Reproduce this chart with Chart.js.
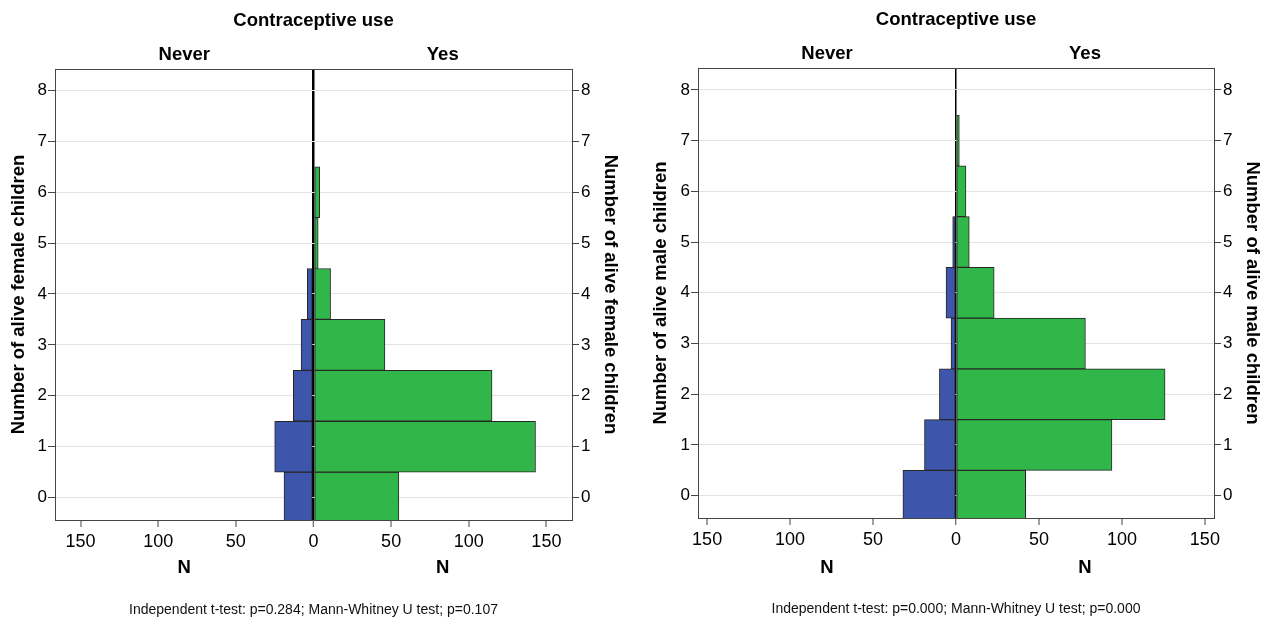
<!DOCTYPE html>
<html>
<head>
<meta charset="utf-8">
<title>Contraceptive use by number of alive children</title>
<script src="https://cdn.jsdelivr.net/npm/chart.js@4/dist/chart.umd.min.js"></script>
<style>
  html, body { margin: 0; padding: 0; background: #fff; overflow: hidden; }
  #wrap { position: relative; width: 1273px; height: 619px; }
  canvas { position: absolute; top: 0; }
</style>
</head>
<body>
<div id="wrap">
  <canvas id="female" width="636" height="619" style="left:0"></canvas>
  <canvas id="male" width="637" height="619" style="left:636px"></canvas>
</div>
<script>
// Number of alive children (y categories)
const childCounts = [0, 1, 2, 3, 4, 5, 6, 7, 8];

// Women by number of alive female children
const femaleNever = [19, 25, 13, 8, 4, 0, 0, 0, 0];
const femaleYes   = [55, 143, 115, 46, 11, 3, 4, 0, 0];

// Women by number of alive male children
const maleNever = [32, 19, 10, 3, 6, 2, 0, 0, 0];
const maleYes   = [42, 94, 126, 78, 23, 8, 6, 2, 0];

// Axis ticks
const countTicks = [0, 1, 2, 3, 4, 5, 6, 7, 8];
const nTicks = [-150, -100, -50, 0, 50, 100, 150];

const groupLabels = ['Never', 'Yes'];
const FONT = '"Liberation Sans", Arial, Helvetica, sans-serif';
const AXIS = '#454545';

// Headings, N labels and test note placed relative to the plot area
const panelText = {
  id: 'panelText',
  afterDraw(chart, args, o) {
    const { ctx, chartArea: a, scales: { x } } = chart;
    const x0 = x.getPixelForValue(0);
    const leftMid = (a.left + x0) / 2;
    const rightMid = (x0 + a.right) / 2;
    ctx.save();
    ctx.fillStyle = '#000';
    ctx.textAlign = 'center';
    ctx.textBaseline = 'middle';
    ctx.font = 'bold 18.5px ' + FONT;
    ctx.fillText('Contraceptive use', x0, o.titleY);
    ctx.fillText(groupLabels[0], leftMid, o.headY);
    ctx.fillText(groupLabels[1], rightMid, o.headY);
    ctx.fillText('N', leftMid, o.nY);
    ctx.fillText('N', rightMid, o.nY);
    ctx.font = '14px ' + FONT;
    ctx.fillStyle = '#111';
    ctx.fillText(o.note, x0, o.noteY);
    ctx.restore();
  }
};

function toPoints(values, sign) {
  return childCounts.map((c, i) => ({ x: sign * values[i], y: c }));
}

function pyramid(canvasId, never, yes, cfg) {
  const fixTicks = vals => scale => { scale.ticks = vals.map(v => ({ value: v })); };
  const tickFont = { family: FONT, size: 17 };
  const titleFont = { family: FONT, size: 18.5, weight: 'bold' };

  return new Chart(document.getElementById(canvasId), {
    type: 'bar',
    data: {
      datasets: [
        {
          label: groupLabels[0],
          data: toPoints(never, -1),
          backgroundColor: '#3d55ab',
          borderColor: '#262626',
          borderWidth: 1,
          borderSkipped: false,
          grouped: false,
          barPercentage: 1,
          categoryPercentage: 1
        },
        {
          label: groupLabels[1],
          data: toPoints(yes, 1),
          backgroundColor: '#31b749',
          borderColor: '#262626',
          borderWidth: 1,
          borderSkipped: false,
          grouped: false,
          barPercentage: 1,
          categoryPercentage: 1
        }
      ]
    },
    options: {
      indexAxis: 'y',
      responsive: false,
      animation: false,
      events: [],
      layout: { padding: 0 },
      plugins: {
        legend: { display: false },
        tooltip: { enabled: false },
        title: { display: false },
        panelText: cfg.text
      },
      scales: {
        x: {
          type: 'linear',
          position: 'bottom',
          min: -cfg.xLimit,
          max: cfg.xLimit,
          offset: false,
          z: 1,
          afterBuildTicks: fixTicks(nTicks),
          afterFit: s => { s.height = cfg.bottomH; },
          grid: {
            offset: false,
            color: c => (c.tick && c.tick.value === 0) ? '#000' : 'rgba(0,0,0,0)',
            lineWidth: c => (c.tick && c.tick.value === 0) ? cfg.zeroW : 0,
            tickColor: AXIS,
            tickWidth: 1,
            tickLength: 7
          },
          border: { color: AXIS, width: 1 },
          ticks: {
            color: '#000',
            font: { family: FONT, size: 18 },
            padding: 4,
            maxRotation: 0,
            autoSkip: false,
            callback: v => String(Math.abs(v))
          }
        },
        xt: {
          type: 'linear',
          position: 'top',
          min: -cfg.xLimit,
          max: cfg.xLimit,
          offset: false,
          afterFit: s => { s.height = cfg.topH; },
          grid: { display: false },
          border: { color: AXIS, width: 1 },
          ticks: { display: false }
        },
        y: {
          type: 'linear',
          position: 'left',
          min: cfg.yMin,
          max: cfg.yMax,
          offset: false,
          afterBuildTicks: fixTicks(countTicks),
          afterFit: s => { s.width = cfg.leftW; },
          grid: {
            offset: false,
            color: '#e4e4e4',
            lineWidth: 1,
            tickColor: AXIS,
            tickWidth: 1,
            tickLength: 7
          },
          border: { color: AXIS, width: 1 },
          ticks: { color: '#000', font: tickFont, padding: 1, autoSkip: false },
          title: {
            display: true,
            text: cfg.yTitle,
            color: '#000',
            font: titleFont,
            padding: { top: cfg.leftTitlePad, bottom: 0 }
          }
        },
        y2: {
          type: 'linear',
          position: 'right',
          min: cfg.yMin,
          max: cfg.yMax,
          offset: false,
          afterBuildTicks: fixTicks(countTicks),
          afterFit: s => { s.width = cfg.rightW; },
          grid: {
            offset: false,
            drawOnChartArea: false,
            tickColor: AXIS,
            tickWidth: 1,
            tickLength: 7
          },
          border: { color: AXIS, width: 1 },
          ticks: { color: '#000', font: tickFont, padding: 2, autoSkip: false },
          title: {
            display: true,
            text: cfg.yTitle,
            color: '#000',
            font: titleFont,
            padding: { top: cfg.rightTitlePad, bottom: 0 }
          }
        }
      }
    },
    plugins: [panelText]
  });
}

pyramid('female', femaleNever, femaleYes, {
  xLimit: 166.5,
  yMin: -0.44,
  yMax: 8.42,
  leftW: 55,
  rightW: 64,
  topH: 69,
  bottomH: 99,
  zeroW: 2.5,
  leftTitlePad: 7.5,
  rightTitlePad: 15,
  yTitle: 'Number of alive female children',
  text: {
    titleY: 21,
    headY: 54.5,
    nY: 568,
    noteY: 610,
    note: 'Independent t-test: p=0.284; Mann-Whitney U test; p=0.107'
  }
});

pyramid('male', maleNever, maleYes, {
  xLimit: 155.5,
  yMin: -0.44,
  yMax: 8.43,
  leftW: 62,
  rightW: 59,
  topH: 68,
  bottomH: 101,
  zeroW: 1.5,
  leftTitlePad: 14,
  rightTitlePad: 10,
  yTitle: 'Number of alive male children',
  text: {
    titleY: 20,
    headY: 54,
    nY: 568,
    noteY: 609,
    note: 'Independent t-test: p=0.000; Mann-Whitney U test; p=0.000'
  }
});
</script>
</body>
</html>
